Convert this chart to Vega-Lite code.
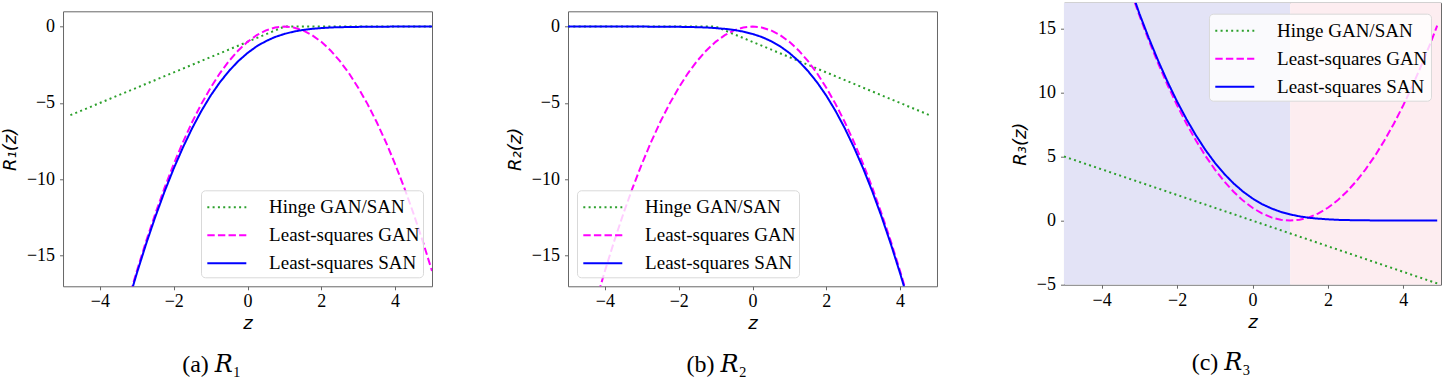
{
  "$schema": "https://vega.github.io/schema/vega-lite/v6.json",
  "padding": {"left": 0, "top": 1.7, "right": 0, "bottom": 0},
  "autosize": {"type": "pad"},
  "columns": 3,
  "align": "none",
  "spacing": 72,
  "datasets": {
    "a": [
      {"z": -4.8, "s": "h", "v": -5.8}, {"z": 1, "s": "h", "v": 0}, {"z": 5, "s": "h", "v": 0},
      {"z": -3.25, "s": "g", "v": -18.06}, {"z": -3, "s": "g", "v": -16}, {"z": -2.75, "s": "g", "v": -14.06}, {"z": -2.5, "s": "g", "v": -12.25},
      {"z": -2.25, "s": "g", "v": -10.56}, {"z": -2, "s": "g", "v": -9}, {"z": -1.75, "s": "g", "v": -7.56}, {"z": -1.5, "s": "g", "v": -6.25},
      {"z": -1.25, "s": "g", "v": -5.06}, {"z": -1, "s": "g", "v": -4}, {"z": -0.75, "s": "g", "v": -3.06}, {"z": -0.5, "s": "g", "v": -2.25},
      {"z": -0.25, "s": "g", "v": -1.56}, {"z": 0, "s": "g", "v": -1}, {"z": 0.25, "s": "g", "v": -0.56}, {"z": 0.5, "s": "g", "v": -0.25},
      {"z": 0.75, "s": "g", "v": -0.06}, {"z": 1, "s": "g", "v": 0}, {"z": 1.25, "s": "g", "v": -0.06}, {"z": 1.5, "s": "g", "v": -0.25},
      {"z": 1.75, "s": "g", "v": -0.56}, {"z": 2, "s": "g", "v": -1}, {"z": 2.25, "s": "g", "v": -1.56}, {"z": 2.5, "s": "g", "v": -2.25},
      {"z": 2.75, "s": "g", "v": -3.06}, {"z": 3, "s": "g", "v": -4}, {"z": 3.25, "s": "g", "v": -5.06}, {"z": 3.5, "s": "g", "v": -6.25},
      {"z": 3.75, "s": "g", "v": -7.56}, {"z": 4, "s": "g", "v": -9}, {"z": 4.25, "s": "g", "v": -10.56}, {"z": 4.5, "s": "g", "v": -12.25},
      {"z": 4.75, "s": "g", "v": -14.06}, {"z": 5, "s": "g", "v": -16},
      {"z": -3.25, "s": "s", "v": -18.18}, {"z": -3, "s": "s", "v": -16.15}, {"z": -2.75, "s": "s", "v": -14.24}, {"z": -2.5, "s": "s", "v": -12.46},
      {"z": -2.25, "s": "s", "v": -10.81}, {"z": -2, "s": "s", "v": -9.29}, {"z": -1.75, "s": "s", "v": -7.91}, {"z": -1.5, "s": "s", "v": -6.65},
      {"z": -1.25, "s": "s", "v": -5.52}, {"z": -1, "s": "s", "v": -4.52}, {"z": -0.75, "s": "s", "v": -3.65}, {"z": -0.5, "s": "s", "v": -2.9},
      {"z": -0.25, "s": "s", "v": -2.26}, {"z": 0, "s": "s", "v": -1.73}, {"z": 0.25, "s": "s", "v": -1.29}, {"z": 0.5, "s": "s", "v": -0.95},
      {"z": 0.75, "s": "s", "v": -0.68}, {"z": 1, "s": "s", "v": -0.48}, {"z": 1.25, "s": "s", "v": -0.33}, {"z": 1.5, "s": "s", "v": -0.22},
      {"z": 1.75, "s": "s", "v": -0.15}, {"z": 2, "s": "s", "v": -0.1}, {"z": 2.25, "s": "s", "v": -0.06}, {"z": 2.5, "s": "s", "v": -0.04},
      {"z": 2.75, "s": "s", "v": -0.03}, {"z": 3, "s": "s", "v": -0.02}, {"z": 3.5, "s": "s", "v": -0.01}, {"z": 4, "s": "s", "v": 0},
      {"z": 5, "s": "s", "v": 0}
    ],
    "b": [
      {"z": -5, "s": "h", "v": 0}, {"z": -1, "s": "h", "v": 0}, {"z": 4.8, "s": "h", "v": -5.8},
      {"z": -4.25, "s": "g", "v": -18.06}, {"z": -4, "s": "g", "v": -16}, {"z": -3.75, "s": "g", "v": -14.06}, {"z": -3.5, "s": "g", "v": -12.25},
      {"z": -3.25, "s": "g", "v": -10.56}, {"z": -3, "s": "g", "v": -9}, {"z": -2.75, "s": "g", "v": -7.56}, {"z": -2.5, "s": "g", "v": -6.25},
      {"z": -2.25, "s": "g", "v": -5.06}, {"z": -2, "s": "g", "v": -4}, {"z": -1.75, "s": "g", "v": -3.06}, {"z": -1.5, "s": "g", "v": -2.25},
      {"z": -1.25, "s": "g", "v": -1.56}, {"z": -1, "s": "g", "v": -1}, {"z": -0.75, "s": "g", "v": -0.56}, {"z": -0.5, "s": "g", "v": -0.25},
      {"z": -0.25, "s": "g", "v": -0.06}, {"z": 0, "s": "g", "v": 0}, {"z": 0.25, "s": "g", "v": -0.06}, {"z": 0.5, "s": "g", "v": -0.25},
      {"z": 0.75, "s": "g", "v": -0.56}, {"z": 1, "s": "g", "v": -1}, {"z": 1.25, "s": "g", "v": -1.56}, {"z": 1.5, "s": "g", "v": -2.25},
      {"z": 1.75, "s": "g", "v": -3.06}, {"z": 2, "s": "g", "v": -4}, {"z": 2.25, "s": "g", "v": -5.06}, {"z": 2.5, "s": "g", "v": -6.25},
      {"z": 2.75, "s": "g", "v": -7.56}, {"z": 3, "s": "g", "v": -9}, {"z": 3.25, "s": "g", "v": -10.56}, {"z": 3.5, "s": "g", "v": -12.25},
      {"z": 3.75, "s": "g", "v": -14.06}, {"z": 4, "s": "g", "v": -16}, {"z": 4.25, "s": "g", "v": -18.06},
      {"z": -5, "s": "s", "v": 0}, {"z": -4, "s": "s", "v": 0}, {"z": -3, "s": "s", "v": -0.002}, {"z": -2.5, "s": "s", "v": -0.006},
      {"z": -2, "s": "s", "v": -0.016}, {"z": -1.75, "s": "s", "v": -0.026}, {"z": -1.5, "s": "s", "v": -0.04}, {"z": -1.25, "s": "s", "v": -0.06},
      {"z": -1, "s": "s", "v": -0.1}, {"z": -0.75, "s": "s", "v": -0.15}, {"z": -0.5, "s": "s", "v": -0.22}, {"z": -0.25, "s": "s", "v": -0.33},
      {"z": 0, "s": "s", "v": -0.48}, {"z": 0.25, "s": "s", "v": -0.68}, {"z": 0.5, "s": "s", "v": -0.95}, {"z": 0.75, "s": "s", "v": -1.29},
      {"z": 1, "s": "s", "v": -1.73}, {"z": 1.25, "s": "s", "v": -2.26}, {"z": 1.5, "s": "s", "v": -2.9}, {"z": 1.75, "s": "s", "v": -3.65},
      {"z": 2, "s": "s", "v": -4.52}, {"z": 2.25, "s": "s", "v": -5.52}, {"z": 2.5, "s": "s", "v": -6.65}, {"z": 2.75, "s": "s", "v": -7.91},
      {"z": 3, "s": "s", "v": -9.29}, {"z": 3.25, "s": "s", "v": -10.81}, {"z": 3.5, "s": "s", "v": -12.46}, {"z": 3.75, "s": "s", "v": -14.24},
      {"z": 4, "s": "s", "v": -16.15}, {"z": 4.25, "s": "s", "v": -18.18}
    ],
    "c": [
      {"z": -5, "s": "h", "v": 5}, {"z": 4.9, "s": "h", "v": -4.9},
      {"z": -3.12, "s": "g", "v": 17}, {"z": -3, "s": "g", "v": 16}, {"z": -2.75, "s": "g", "v": 14.06}, {"z": -2.5, "s": "g", "v": 12.25},
      {"z": -2.25, "s": "g", "v": 10.56}, {"z": -2, "s": "g", "v": 9}, {"z": -1.75, "s": "g", "v": 7.56}, {"z": -1.5, "s": "g", "v": 6.25},
      {"z": -1.25, "s": "g", "v": 5.06}, {"z": -1, "s": "g", "v": 4}, {"z": -0.75, "s": "g", "v": 3.06}, {"z": -0.5, "s": "g", "v": 2.25},
      {"z": -0.25, "s": "g", "v": 1.56}, {"z": 0, "s": "g", "v": 1}, {"z": 0.25, "s": "g", "v": 0.56}, {"z": 0.5, "s": "g", "v": 0.25},
      {"z": 0.75, "s": "g", "v": 0.06}, {"z": 1, "s": "g", "v": 0}, {"z": 1.25, "s": "g", "v": 0.06}, {"z": 1.5, "s": "g", "v": 0.25},
      {"z": 1.75, "s": "g", "v": 0.56}, {"z": 2, "s": "g", "v": 1}, {"z": 2.25, "s": "g", "v": 1.56}, {"z": 2.5, "s": "g", "v": 2.25},
      {"z": 2.75, "s": "g", "v": 3.06}, {"z": 3, "s": "g", "v": 4}, {"z": 3.25, "s": "g", "v": 5.06}, {"z": 3.5, "s": "g", "v": 6.25},
      {"z": 3.75, "s": "g", "v": 7.56}, {"z": 4, "s": "g", "v": 9}, {"z": 4.25, "s": "g", "v": 10.56}, {"z": 4.5, "s": "g", "v": 12.25},
      {"z": 4.75, "s": "g", "v": 14.06}, {"z": 4.9, "s": "g", "v": 15.21},
      {"z": -3.1, "s": "s", "v": 17}, {"z": -3, "s": "s", "v": 16.15}, {"z": -2.75, "s": "s", "v": 14.24}, {"z": -2.5, "s": "s", "v": 12.46},
      {"z": -2.25, "s": "s", "v": 10.81}, {"z": -2, "s": "s", "v": 9.29}, {"z": -1.75, "s": "s", "v": 7.91}, {"z": -1.5, "s": "s", "v": 6.65},
      {"z": -1.25, "s": "s", "v": 5.52}, {"z": -1, "s": "s", "v": 4.52}, {"z": -0.75, "s": "s", "v": 3.65}, {"z": -0.5, "s": "s", "v": 2.9},
      {"z": -0.25, "s": "s", "v": 2.26}, {"z": 0, "s": "s", "v": 1.73}, {"z": 0.25, "s": "s", "v": 1.29}, {"z": 0.5, "s": "s", "v": 0.95},
      {"z": 0.75, "s": "s", "v": 0.68}, {"z": 1, "s": "s", "v": 0.48}, {"z": 1.25, "s": "s", "v": 0.33}, {"z": 1.5, "s": "s", "v": 0.22},
      {"z": 1.75, "s": "s", "v": 0.15}, {"z": 2, "s": "s", "v": 0.1}, {"z": 2.25, "s": "s", "v": 0.06}, {"z": 2.5, "s": "s", "v": 0.04},
      {"z": 2.75, "s": "s", "v": 0.03}, {"z": 3, "s": "s", "v": 0.02}, {"z": 3.5, "s": "s", "v": 0.01}, {"z": 4, "s": "s", "v": 0},
      {"z": 4.9, "s": "s", "v": 0}
    ],
    "bg": [
      {"z0": -5, "z1": 1, "lo": -5, "hi": 17, "region": "left"},
      {"z0": 1, "z1": 5, "lo": -5, "hi": 17, "region": "right"}
    ]
  },
  "concat": [
    {
      "spacing": 6.6,
      "resolve": {"legend": {"color": "independent", "strokeDash": "independent"}, "scale": {"color": "independent", "strokeDash": "independent"}},
      "vconcat": [
        {"width": 369, "height": 1, "data": {"values": []}, "mark": {"type": "text"}, "encoding": {}, "view": {"stroke": null}},
        {
          "title": {"text": "(a) 𝑅₁"},
          "width": 369, "height": 275,
          "data": {"name": "a"},
          "mark": {"type": "line", "clip": true, "strokeWidth": 2},
          "encoding": {
            "x": {"field": "z", "type": "quantitative", "scale": {"domain": [-5, 5], "nice": false, "zero": false}, "axis": {"values": [-4, -2, 0, 2, 4], "title": "z"}},
            "y": {"field": "v", "type": "quantitative", "scale": {"domain": [-17, 1], "nice": false, "zero": false}, "axis": {"values": [0, -5, -10, -15], "title": "R₁(z)"}},
            "color": {"field": "s", "type": "nominal", "scale": {"domain": ["h", "g", "s"], "range": ["#2ca02c", "#ff00ff", "#0000ff"]},
              "legend": {"orient": "bottom-right", "offset": 9.5, "title": null, "labelExpr": "datum.value == 'h' ? 'Hinge GAN/SAN' : datum.value == 'g' ? 'Least-squares GAN' : 'Least-squares SAN'"}},
            "strokeDash": {"field": "s", "type": "nominal", "scale": {"domain": ["h", "g", "s"], "range": [[2, 3.3], [7.4, 3.2], [1, 0]]},
              "legend": {"orient": "bottom-right", "offset": 9.5, "title": null, "labelExpr": "datum.value == 'h' ? 'Hinge GAN/SAN' : datum.value == 'g' ? 'Least-squares GAN' : 'Least-squares SAN'"}}
          }
        }
      ]
    },
    {
      "spacing": 6.6,
      "resolve": {"legend": {"color": "independent", "strokeDash": "independent"}, "scale": {"color": "independent", "strokeDash": "independent"}},
      "vconcat": [
        {"width": 369, "height": 1, "data": {"values": []}, "mark": {"type": "text"}, "encoding": {}, "view": {"stroke": null}},
        {
          "title": {"text": "(b) 𝑅₂"},
          "width": 369, "height": 275,
          "data": {"name": "b"},
          "mark": {"type": "line", "clip": true, "strokeWidth": 2},
          "encoding": {
            "x": {"field": "z", "type": "quantitative", "scale": {"domain": [-5, 5], "nice": false, "zero": false}, "axis": {"values": [-4, -2, 0, 2, 4], "title": "z"}},
            "y": {"field": "v", "type": "quantitative", "scale": {"domain": [-17, 1], "nice": false, "zero": false}, "axis": {"values": [0, -5, -10, -15], "title": "R₂(z)"}},
            "color": {"field": "s", "type": "nominal", "scale": {"domain": ["h", "g", "s"], "range": ["#2ca02c", "#ff00ff", "#0000ff"]},
              "legend": {"orient": "bottom-left", "offset": 9, "title": null, "labelExpr": "datum.value == 'h' ? 'Hinge GAN/SAN' : datum.value == 'g' ? 'Least-squares GAN' : 'Least-squares SAN'"}},
            "strokeDash": {"field": "s", "type": "nominal", "scale": {"domain": ["h", "g", "s"], "range": [[2, 3.3], [7.4, 3.2], [1, 0]]},
              "legend": {"orient": "bottom-left", "offset": 9, "title": null, "labelExpr": "datum.value == 'h' ? 'Hinge GAN/SAN' : datum.value == 'g' ? 'Least-squares GAN' : 'Least-squares SAN'"}}
          }
        }
      ]
    },
    {
      "resolve": {"legend": {"color": "independent", "strokeDash": "independent"}, "scale": {"color": "independent", "strokeDash": "independent"}},
      "vconcat": [
        {
          "title": {"text": "(c) 𝑅₃"},
          "width": 377, "height": 282,
          "layer": [
            {
              "data": {"name": "bg"},
              "mark": {"type": "rect", "clip": true},
              "encoding": {
                "x": {"field": "z0", "type": "quantitative", "title": "z"},
                "x2": {"field": "z1"},
                "y": {"field": "lo", "type": "quantitative", "title": "R₃(z)"},
                "y2": {"field": "hi"},
                "fill": {"field": "region", "type": "nominal", "scale": {"domain": ["left", "right"], "range": ["#e3e3f6", "#fdedf0"]}, "legend": null}
              }
            },
            {
              "data": {"name": "c"},
              "mark": {"type": "line", "clip": true, "strokeWidth": 2},
              "encoding": {
                "x": {"field": "z", "type": "quantitative", "scale": {"domain": [-5, 5], "nice": false, "zero": false}, "axis": {"values": [-4, -2, 0, 2, 4], "title": "z"}},
                "y": {"field": "v", "type": "quantitative", "scale": {"domain": [-5, 17], "nice": false, "zero": false}, "axis": {"values": [-5, 0, 5, 10, 15], "title": "R₃(z)"}},
                "color": {"field": "s", "type": "nominal", "scale": {"domain": ["h", "g", "s"], "range": ["#2ca02c", "#ff00ff", "#0000ff"]},
                  "legend": {"orient": "top-right", "offset": 10.5, "title": null, "labelExpr": "datum.value == 'h' ? 'Hinge GAN/SAN' : datum.value == 'g' ? 'Least-squares GAN' : 'Least-squares SAN'"}},
                "strokeDash": {"field": "s", "type": "nominal", "scale": {"domain": ["h", "g", "s"], "range": [[2, 3.3], [7.4, 3.2], [1, 0]]},
                  "legend": {"orient": "top-right", "offset": 10.5, "title": null, "labelExpr": "datum.value == 'h' ? 'Hinge GAN/SAN' : datum.value == 'g' ? 'Least-squares GAN' : 'Least-squares SAN'"}}
              }
            }
          ]
        }
      ]
    }
  ],
  "resolve": {
    "scale": {"x": "independent", "y": "independent", "color": "independent", "strokeDash": "independent", "fill": "independent"},
    "axis": {"x": "independent", "y": "independent"},
    "legend": {"color": "independent", "strokeDash": "independent", "fill": "independent"}
  },
  "config": {
    "view": {"stroke": "#666", "strokeWidth": 1},
    "axis": {
      "grid": false, "domain": false, "tickColor": "#666", "tickSize": 3.5, "tickWidth": 1,
      "labelFont": "Liberation Serif", "labelFontSize": 18, "labelColor": "#000", "labelFlush": false, "labelOverlap": false,
      "titleFont": "DejaVu Sans", "titleFontStyle": "italic", "titleFontWeight": "normal", "titleFontSize": 18, "titleColor": "#000"
    },
    "axisX": {"labelPadding": 3, "titlePadding": 4},
    "axisY": {"labelPadding": 5, "titlePadding": 7},
    "legend": {
      "symbolType": "M-1.56,0H1.56", "symbolSize": 625, "symbolStrokeWidth": 2, "symbolOffset": 8.8,
      "labelFont": "Liberation Serif", "labelFontSize": 19, "labelColor": "#000", "labelOffset": 28.8, "labelLimit": 400,
      "padding": 3.5, "rowPadding": 4, "strokeColor": "#d9d9d9", "fillColor": "rgba(255,255,255,0.8)", "cornerRadius": 4
    },
    "title": {
      "font": "Liberation Serif, DejaVu Serif", "fontSize": 24, "fontWeight": "normal", "color": "#000",
      "orient": "bottom", "anchor": "middle", "frame": "bounds", "offset": 20, "dx": -5
    }
  }
}
